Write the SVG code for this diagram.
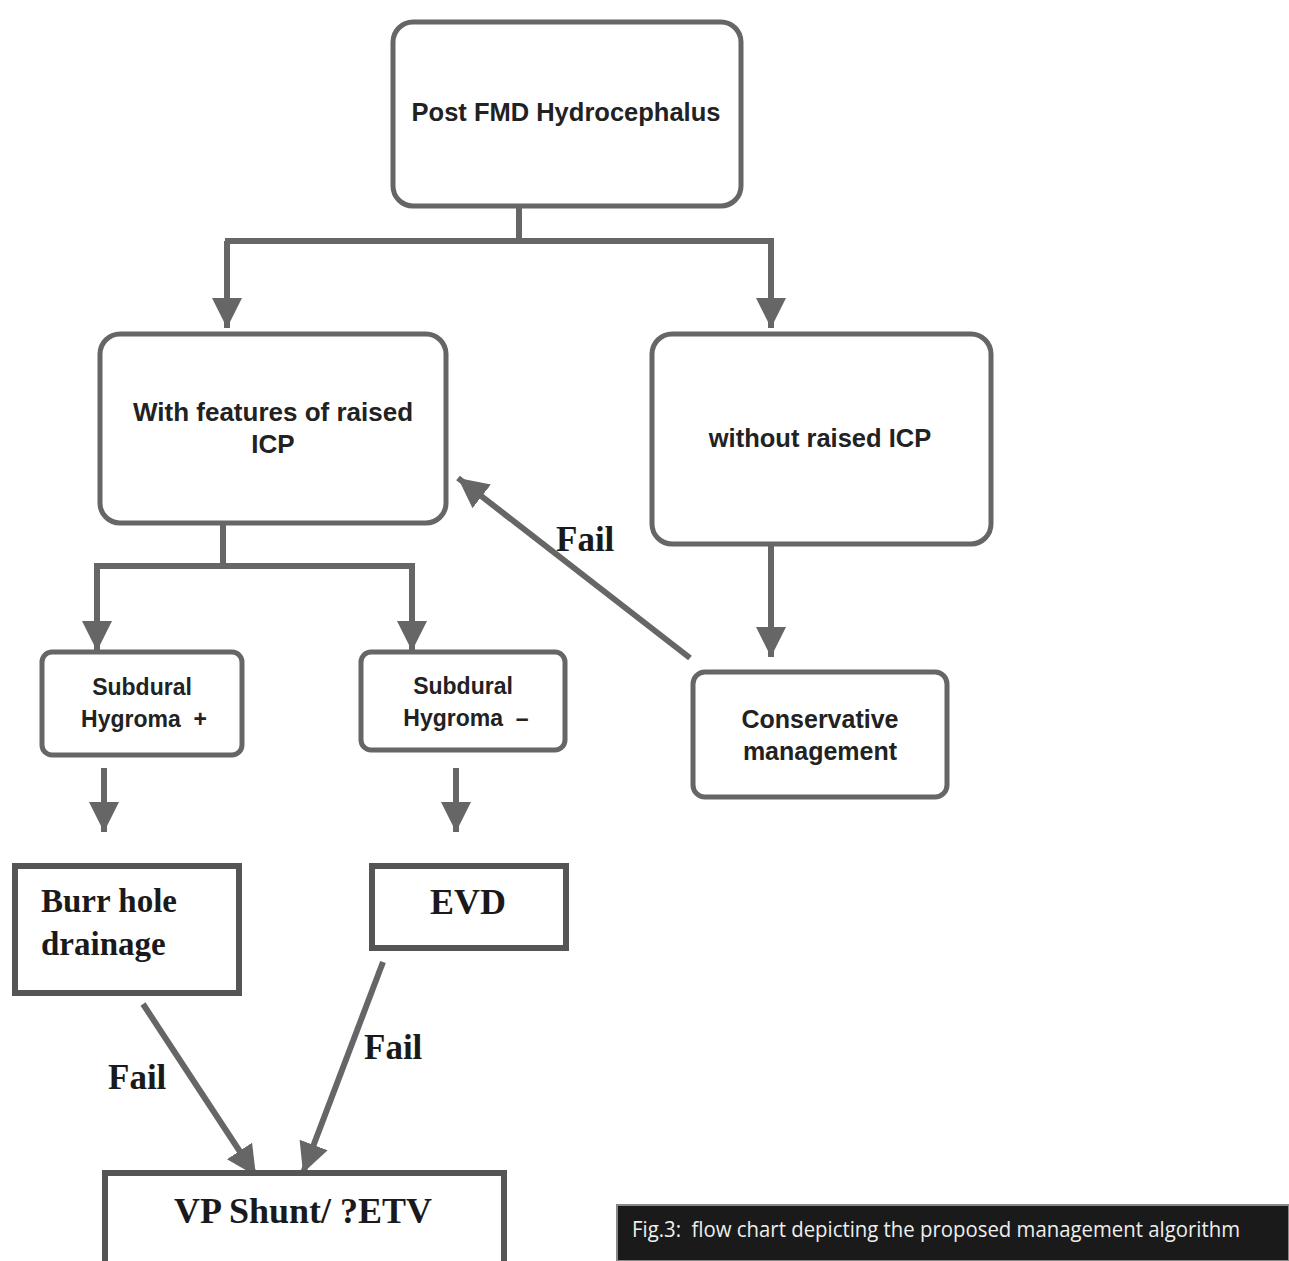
<svg xmlns="http://www.w3.org/2000/svg" width="1289" height="1261" viewBox="0 0 1289 1261">
<style>
.rbox{fill:#fff;stroke:#666;stroke-width:5}
.sbox{fill:#fff;stroke:#555;stroke-width:6}
.line{fill:none;stroke:#666;stroke-width:6}
.sans{font-family:"Liberation Sans",Arial,sans-serif;font-weight:bold;fill:#222;text-anchor:middle}
.serif{font-family:"Liberation Serif","Times New Roman",serif;font-weight:bold;fill:#1a1a1a}
.pre{white-space:pre}
</style>
<defs>
<marker id="ah" markerUnits="userSpaceOnUse" markerWidth="34" markerHeight="32" refX="30" refY="15" orient="auto">
<path d="M0,0 L30,15 L0,30 Z" fill="#666"/>
</marker>
</defs>
<rect width="1289" height="1261" fill="#fff"/>
<g id="connectors">
<path class="line" d="M519,206 V241 M225,241 H774"/>
<path class="line" d="M227,241 V328" marker-end="url(#ah)"/>
<path class="line" d="M771,241 V328" marker-end="url(#ah)"/>
<path class="line" d="M223,523 V566 M94,566 H415"/>
<path class="line" d="M97,566 V651" marker-end="url(#ah)"/>
<path class="line" d="M412,566 V651" marker-end="url(#ah)"/>
<path class="line" d="M771,544 V657" marker-end="url(#ah)"/>
<path class="line" d="M690,658 L458,478" marker-end="url(#ah)"/>
<path class="line" d="M104,768 V832" marker-end="url(#ah)"/>
<path class="line" d="M456,768 V832" marker-end="url(#ah)"/>
<path class="line" d="M143,1004 L256,1176" marker-end="url(#ah)"/>
<path class="line" d="M383,962 L303,1173" marker-end="url(#ah)"/>
<text class="serif" x="556" y="551" font-size="35">Fail</text>
<text class="serif" x="108" y="1089" font-size="35">Fail</text>
<text class="serif" x="364" y="1059" font-size="35">Fail</text>
</g>
<g id="post-fmd">
<rect class="rbox" x="393" y="22" width="348" height="184" rx="20"/>
<text class="sans" x="566" y="121" font-size="25.5">Post FMD Hydrocephalus</text>
</g>
<g id="with-raised">
<rect class="rbox" x="100" y="334" width="346" height="189" rx="20"/>
<text class="sans" x="273" y="421" font-size="26">With features of raised</text>
<text class="sans" x="273" y="453" font-size="26">ICP</text>
</g>
<g id="without-raised">
<rect class="rbox" x="652" y="334" width="339" height="210" rx="20"/>
<text class="sans" x="820" y="447" font-size="25.5">without raised ICP</text>
</g>
<g id="conservative">
<rect class="rbox" x="693" y="672" width="254" height="125" rx="12"/>
<text class="sans" x="820" y="728" font-size="25">Conservative</text>
<text class="sans" x="820" y="760" font-size="25">management</text>
</g>
<g id="hygroma-plus">
<rect class="rbox" x="42" y="652" width="200" height="103" rx="10"/>
<text class="sans" x="142" y="695" font-size="23">Subdural</text>
<text class="sans pre" x="144" y="727" font-size="23">Hygroma  +</text>
</g>
<g id="hygroma-minus">
<rect class="rbox" x="361" y="652" width="204" height="98" rx="10"/>
<text class="sans" x="463" y="694" font-size="23">Subdural</text>
<text class="sans pre" x="466" y="726" font-size="23">Hygroma  –</text>
</g>
<g id="burr-hole">
<rect class="sbox" x="15" y="866" width="224" height="127"/>
<text class="serif" x="41" y="912" font-size="33">Burr hole</text>
<text class="serif" x="41" y="955" font-size="33">drainage</text>
</g>
<g id="evd">
<rect class="sbox" x="372" y="866" width="194" height="82"/>
<text class="serif" x="468" y="914" font-size="36" text-anchor="middle">EVD</text>
</g>
<g id="vp-shunt">
<rect class="sbox" x="105" y="1173" width="399" height="92"/>
<text class="serif" x="303" y="1223" font-size="36" text-anchor="middle">VP Shunt/ ?ETV</text>
</g>
<g id="caption">
<rect x="617" y="1205" width="672" height="56" fill="#1a1a1a" stroke="#888" stroke-width="2"/>
<text class="pre" x="632" y="1237" font-family="'Open Sans','Liberation Sans',sans-serif" font-size="21" fill="#eee" textLength="608" lengthAdjust="spacingAndGlyphs">Fig.3:  flow chart depicting the proposed management algorithm</text>
</g>
</svg>
